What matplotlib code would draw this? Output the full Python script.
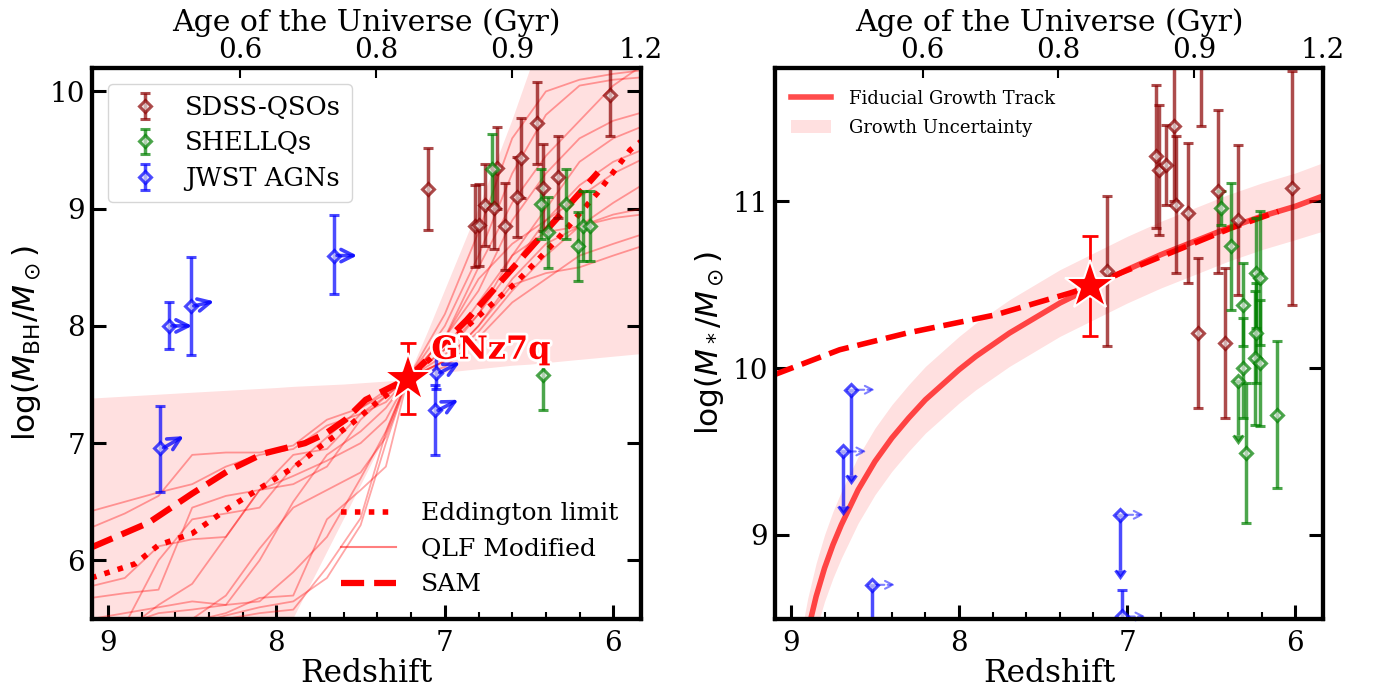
import matplotlib
matplotlib.use('Agg')
import matplotlib.pyplot as plt
import matplotlib.patheffects as pe
from matplotlib.lines import Line2D
from matplotlib.patches import Patch
from matplotlib.ticker import MultipleLocator

plt.rcParams['font.family'] = ['DejaVu Serif']
plt.rcParams['mathtext.fontset'] = 'dejavusans'

# ================= LEFT PANEL DATA (black hole mass) =================
sdss_z = [7.10, 6.82, 6.80, 6.76, 6.71, 6.69, 6.64, 6.57, 6.55, 6.45, 6.42, 6.33, 6.02]
sdss_mbh = [9.17, 8.85, 8.86, 9.03, 9.01, 9.35, 8.85, 9.10, 9.43, 9.73, 9.18, 9.27, 9.97]
sdss_mbh_err = [0.35, 0.35, 0.35, 0.35, 0.35, 0.35, 0.37, 0.34, 0.34, 0.35, 0.37, 0.35, 0.35]

shq_z = [6.72, 6.43, 6.39, 6.28, 6.21, 6.18, 6.14, 6.42]
shq_mbh = [9.34, 9.04, 8.80, 9.04, 8.68, 8.85, 8.85, 7.58]
shq_mbh_lo = [0.30, 0.30, 0.31, 0.30, 0.30, 0.30, 0.30, 0.30]
shq_mbh_hi = [0.30, 0.30, 0.30, 0.30, 0.29, 0.30, 0.30, 0.17]

jw_z = [8.64, 8.51, 7.66, 8.69, 7.05, 7.06]
jw_mbh = [8.00, 8.17, 8.60, 6.96, 7.60, 7.28]
jw_mbh_lo = [0.20, 0.42, 0.33, 0.38, 0.14, 0.38]
jw_mbh_hi = [0.20, 0.42, 0.35, 0.36, 0.18, 0.22]
jw_arrow_rise = [0.00, 0.04, 0.00, 0.10, 0.09, 0.09]

gn_z = 7.22
gn_mbh = 7.55
gn_mbh_err = 0.30

# growth-uncertainty band of the BH panel
band_z = [9.10, 8.50, 8.00, 7.90, 7.60, 7.40, 7.30, 7.22, 7.10, 7.00, 6.80, 6.60, 6.49, 6.20, 5.83]
band_lo = [2.20, 3.85, 5.22, 5.50, 6.35, 6.92, 7.20, 7.55, 7.58, 7.60, 7.63, 7.66, 7.67, 7.71, 7.76]
band_hi = [7.38, 7.43, 7.47, 7.48, 7.50, 7.52, 7.53, 7.55, 7.95, 8.30, 9.00, 9.75, 10.20, 10.80, 11.30]

# QLF modified tracks
qlf_z = [9.10, 8.90, 8.70, 8.50, 8.30, 8.10, 7.90, 7.70, 7.50, 7.35, 7.22,
         7.00, 6.80, 6.60, 6.40, 6.20, 6.00, 5.83]
qlf_tracks = [
    [6.42, 6.50, 6.58, 6.65, 6.80, 6.90, 6.95, 7.15, 7.25, 7.40, 7.55, 8.10, 8.80, 9.60, 10.00, 10.10, 10.15, 10.18],
    [6.28, 6.40, 6.55, 6.90, 6.92, 6.92, 6.98, 7.20, 7.30, 7.42, 7.55, 8.00, 8.60, 9.30, 9.80, 10.05, 10.10, 10.12],
    [5.78, 5.85, 6.12, 6.18, 6.20, 6.60, 6.90, 6.95, 7.25, 7.35, 7.55, 7.90, 8.30, 8.90, 9.30, 9.60, 9.75, 9.82],
    [5.68, 5.72, 5.75, 6.45, 6.55, 6.60, 6.65, 6.80, 7.20, 7.40, 7.55, 7.80, 8.20, 8.60, 9.00, 9.40, 9.60, 9.70],
    [5.50, 5.55, 5.60, 5.65, 5.62, 6.00, 6.50, 6.90, 7.10, 7.30, 7.55, 7.90, 8.40, 8.70, 8.90, 9.20, 9.40, 9.50],
    [5.40, 5.45, 6.00, 6.35, 6.40, 6.45, 6.80, 7.05, 7.30, 7.45, 7.55, 7.80, 8.10, 8.50, 8.90, 9.10, 9.30, 9.42],
    [5.30, 5.45, 5.55, 5.58, 5.62, 5.65, 5.90, 6.20, 6.70, 7.10, 7.55, 7.70, 8.00, 8.40, 8.70, 8.85, 9.05, 9.20],
    [5.10, 5.40, 5.62, 5.80, 6.20, 6.60, 6.72, 6.85, 7.00, 7.20, 7.55, 7.75, 8.10, 8.60, 8.80, 8.85, 8.95, 9.00],
    [5.00, 5.20, 5.35, 5.50, 5.70, 6.10, 6.45, 6.60, 6.75, 7.05, 7.55, 7.70, 7.95, 8.30, 8.60, 8.85, 8.92, 8.95],
    [4.80, 5.00, 5.20, 5.48, 5.55, 5.68, 5.70, 6.35, 6.60, 6.80, 7.55, 7.65, 7.90, 8.20, 8.40, 8.60, 8.70, 8.78],
    [4.90, 5.10, 5.30, 5.45, 5.53, 5.60, 5.65, 5.85, 6.30, 7.00, 7.55, 7.70, 8.00, 8.35, 8.45, 8.50, 8.60, 8.68],
    [4.70, 4.80, 5.10, 5.40, 5.50, 5.55, 5.58, 5.94, 6.36, 7.09, 7.55, 7.90, 8.50, 9.05, 9.45, 9.75, 10.05, 10.22],
]

edd_z = [9.10, 8.84, 8.70, 8.50, 8.28, 8.07, 7.89, 7.74, 7.55, 7.41, 7.22, 6.81, 6.57, 6.35, 6.09, 5.90, 5.83]
edd_mbh = [5.85, 5.97, 6.13, 6.23, 6.45, 6.64, 6.80, 6.97, 7.17, 7.34, 7.55, 8.07, 8.38, 8.71, 9.14, 9.50, 9.58]

sam_z = [9.10, 8.76, 8.50, 8.28, 8.08, 7.83, 7.71, 7.59, 7.47, 7.22, 6.87, 6.50, 6.09]
sam_mbh = [6.11, 6.32, 6.57, 6.77, 6.91, 7.00, 7.08, 7.20, 7.37, 7.55, 8.05, 8.65, 9.31]

# ================= RIGHT PANEL DATA (stellar mass) =================
sdss_ms_z = [6.83, 6.81, 6.77, 6.72, 6.71, 6.64, 6.56, 6.46, 6.34, 6.02, 7.12, 6.42, 6.58]
sdss_ms = [11.27, 11.19, 11.22, 11.45, 10.98, 10.93, 11.95, 11.06, 10.89, 11.08, 10.58, 10.15, 10.21]
sdss_ms_err = [0.43, 0.39, 0.24, 0.45, 0.41, 0.42, 0.50, 0.49, 0.45, 0.70, 0.45, 0.45, 0.45]

shq_ms_z = [6.44, 6.38, 6.31, 6.23, 6.21, 6.23, 6.24, 6.21, 6.31, 6.34, 6.29, 6.11]
shq_ms = [10.96, 10.73, 10.38, 10.57, 10.54, 10.21, 10.06, 10.03, 10.00, 9.92, 9.49, 9.72]
shq_ms_err = [0.10, 0.38, 0.25, 0.33, 0.40, 0.30, 0.40, 0.38, 0.30, 0.32, 0.42, 0.44]
shq_ms_uplim = [False, False, False, False, False, False, False, False, False, True, False, False]

jw_ms_z = [8.64, 8.69, 8.52, 7.04, 7.03]
jw_ms = [9.87, 9.50, 8.70, 9.12, 8.51]
jw_ms_err = [0.51, 0.33, 0.35, 0.33, 0.16]
jw_ms_uplim = [True, True, True, True, False]

gn_ms = 10.49
gn_ms_err = 0.30

track_z = [8.95, 8.90, 8.85, 8.80, 8.75, 8.70, 8.60, 8.50, 8.40, 8.30, 8.20, 8.10, 8.00,
           7.90, 7.80, 7.70, 7.60, 7.50, 7.40, 7.30, 7.20, 7.10, 7.00, 6.80, 6.60,
           6.40, 6.20, 6.00, 5.84]
track_ms = [8.15, 8.42, 8.63, 8.80, 8.94, 9.06, 9.27, 9.44, 9.58, 9.70, 9.81, 9.90, 9.99,
            10.07, 10.14, 10.21, 10.27, 10.33, 10.39, 10.44, 10.49, 10.54, 10.59, 10.68, 10.76,
            10.84, 10.91, 10.97, 11.03]
track_lo = [7.95, 8.22, 8.43, 8.60, 8.74, 8.86, 9.07, 9.24, 9.38, 9.50, 9.61, 9.70, 9.79,
            9.87, 9.94, 10.01, 10.07, 10.13, 10.19, 10.24, 10.29, 10.34, 10.39, 10.48, 10.56,
            10.64, 10.71, 10.77, 10.82]
track_hi = [8.35, 8.62, 8.83, 9.00, 9.14, 9.26, 9.47, 9.64, 9.78, 9.90, 10.01, 10.10, 10.19,
            10.27, 10.34, 10.41, 10.47, 10.53, 10.59, 10.64, 10.69, 10.74, 10.79, 10.88, 10.96,
            11.04, 11.11, 11.17, 11.23]

sam_ms_z = [9.10, 8.71, 8.31, 7.78, 7.34, 7.22, 7.04, 6.72, 6.38, 6.10]
sam_ms = [9.96, 10.11, 10.21, 10.32, 10.45, 10.49, 10.57, 10.70, 10.84, 10.94]

age_tick_z = [8.216, 7.408, 6.60, 5.835]
age_tick_labels = ['0.6', '0.8', '0.9', '1.2']
xlim = (9.095, 5.835)

# ================= FIGURE =================
fig = plt.figure(figsize=(13.75, 6.91), dpi=100)
axL = fig.add_axes([0.0669, 0.1042, 0.3993, 0.7974])
axR = fig.add_axes([0.5636, 0.1042, 0.3985, 0.7974])

TICK_FS = 20
LABEL_FS = 22.5
TOP_LABEL_FS = 21.5
DASH = (0, (3.7, 1.6))
DOT = (0, (1, 1.5))


def style_axes(ax, ylim, ylabel):
    ax.set_xlim(*xlim)
    ax.set_ylim(*ylim)
    ax.xaxis.set_major_locator(MultipleLocator(1))
    ax.xaxis.set_minor_locator(MultipleLocator(0.2))
    ax.yaxis.set_major_locator(MultipleLocator(1))
    ax.yaxis.set_minor_locator(MultipleLocator(0.2))
    ax.tick_params(which='both', direction='in', left=True, right=True, bottom=True, top=False)
    ax.tick_params(which='major', length=10, width=2.2, labelsize=TICK_FS)
    ax.tick_params(which='minor', length=5, width=1.5)
    ax.tick_params(axis='x', which='major', pad=8)
    ax.tick_params(axis='y', which='major', pad=5)
    for s in ax.spines.values():
        s.set_linewidth(3)
    ax.set_xlabel('Redshift', fontsize=LABEL_FS, labelpad=1)
    ax.set_ylabel(ylabel, fontsize=LABEL_FS, family='DejaVu Sans', labelpad=5)
    axt = ax.twiny()
    axt.set_xlim(*xlim)
    axt.set_xticks(age_tick_z)
    axt.set_xticklabels(age_tick_labels)
    axt.minorticks_off()
    axt.tick_params(direction='in', length=7, width=1.5, labelsize=TICK_FS, pad=3)
    for s in axt.spines.values():
        s.set_linewidth(3)
    axt.set_xlabel('Age of the Universe (Gyr)', fontsize=TOP_LABEL_FS, labelpad=4)
    return axt


eb_common = dict(fmt='D', ms=6, mew=2.2, elinewidth=2.5, capsize=3.5, capthick=2, alpha=0.7)

# ---------------- LEFT ----------------
ax = axL
ax.fill_between(band_z, band_lo, band_hi, color='red', alpha=0.12, lw=0, zorder=1)
for tr in qlf_tracks:
    ax.plot(qlf_z, tr, color='red', lw=1.3, alpha=0.35, zorder=2)
ax.plot(edd_z, edd_mbh, color='red', ls=DOT, lw=4, zorder=3)
ax.plot(sam_z, sam_mbh, color='red', ls=DASH, lw=4.5, zorder=3)

h1 = ax.errorbar(sdss_z, sdss_mbh, yerr=sdss_mbh_err, color='darkred', mfc='#e4dada',
                 label='SDSS-QSOs', zorder=5, **eb_common)
h2 = ax.errorbar(shq_z, shq_mbh, yerr=[shq_mbh_lo, shq_mbh_hi], color='green', mfc='#dae4da',
                 label='SHELLQs', zorder=5, **eb_common)
h3 = ax.errorbar(jw_z, jw_mbh, yerr=[jw_mbh_lo, jw_mbh_hi], color='blue', mfc='#dadaf4',
                 label='JWST AGNs', zorder=5, **eb_common)
for z, m, r in zip(jw_z, jw_mbh, jw_arrow_rise):
    ax.annotate('', xy=(z - 0.14, m + r), xytext=(z - 0.02, m),
                arrowprops=dict(arrowstyle='->', color='blue', lw=2.6, alpha=0.75,
                                mutation_scale=22, shrinkA=0, shrinkB=0), zorder=6)

ax.errorbar([gn_z], [gn_mbh], yerr=gn_mbh_err, fmt='none', ecolor='red', elinewidth=2,
            capsize=6, capthick=2, zorder=7)
ax.plot([gn_z], [gn_mbh], marker='*', ms=37, color='red', mec='white', mew=1.5, zorder=8, ls='none')
ax.text(7.08, 7.72, 'GNz7q', color='red', fontsize=23, fontweight='bold', zorder=9,
        path_effects=[pe.withStroke(linewidth=4, foreground='white')])

axtL = style_axes(ax, (5.5, 10.2), r'log($M_{\rm BH}/M_\odot$)')

leg1 = ax.legend(handles=[h1, h2, h3], loc='upper left', fontsize=18.5, frameon=True,
                 fancybox=True, framealpha=0.8, edgecolor='#cccccc', borderpad=0.45,
                 handletextpad=0.55, labelspacing=0.4, bbox_to_anchor=(0.005, 0.995))
ax.add_artist(leg1)
lh = [Line2D([], [], color='red', ls=DOT, lw=4),
      Line2D([], [], color='red', lw=1.5, alpha=0.5),
      Line2D([], [], color='red', ls=DASH, lw=4.5)]
ax.legend(lh, ['Eddington limit', 'QLF Modified', 'SAM'], loc='lower right', fontsize=18,
          frameon=False, handlelength=2.2, handletextpad=1.0, labelspacing=0.5,
          bbox_to_anchor=(1.0, 0.0))

# ---------------- RIGHT ----------------
ax = axR
ax.fill_between(track_z, track_lo, track_hi, color='red', alpha=0.12, lw=0, zorder=1)
ax.plot(track_z, track_ms, color='red', lw=4, alpha=0.7, zorder=2)
ax.plot(sam_ms_z, sam_ms, color='red', ls=DASH, lw=4, zorder=3)

ax.errorbar(sdss_ms_z, sdss_ms, yerr=sdss_ms_err, color='darkred', mfc='#e4dada', zorder=5, **eb_common)
ax.errorbar(shq_ms_z, shq_ms, yerr=shq_ms_err, uplims=shq_ms_uplim, color='green', mfc='#dae4da',
            zorder=5, **eb_common)
ax.errorbar(jw_ms_z, jw_ms, yerr=jw_ms_err, uplims=jw_ms_uplim, color='blue', mfc='#dadaf4',
            zorder=5, **eb_common)
for z, m in zip(jw_ms_z, jw_ms):
    ax.annotate('', xy=(z - 0.14, m), xytext=(z - 0.03, m),
                arrowprops=dict(arrowstyle='->', color='blue', lw=1.5, alpha=0.5, ls='--',
                                mutation_scale=14, shrinkA=0, shrinkB=0), zorder=6)

ax.errorbar([gn_z], [gn_ms], yerr=gn_ms_err, fmt='none', ecolor='red', elinewidth=2,
            capsize=6, capthick=2, zorder=7)
ax.plot([gn_z], [gn_ms], marker='*', ms=38, color='red', mec='white', mew=1.5, zorder=8, ls='none')

axtR = style_axes(ax, (8.495, 11.8), r'log($M_*/M_\odot$)')

rh = [Line2D([], [], color='red', lw=4, alpha=0.7),
      Patch(facecolor='red', alpha=0.12, edgecolor='none')]
ax.legend(rh, ['Fiducial Growth Track', 'Growth Uncertainty'], loc='upper left', fontsize=13,
          frameon=False, handlelength=2.2, handletextpad=1.0, labelspacing=0.6,
          bbox_to_anchor=(0.0, 0.99))

fig.savefig('out.png', dpi=100)
